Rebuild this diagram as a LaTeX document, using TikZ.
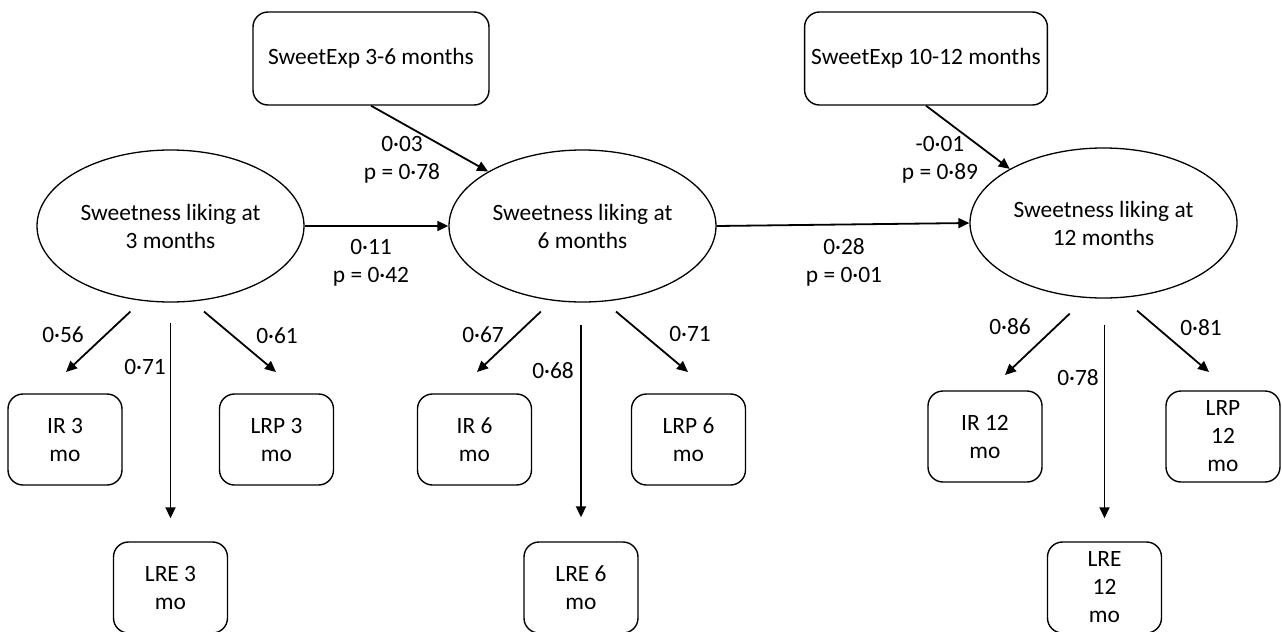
\documentclass[tikz,border=0pt]{standalone}
\usepackage{fontspec}
\setmainfont{Carlito}
\usetikzlibrary{shapes.geometric, arrows.meta}

\begin{document}
\begin{tikzpicture}[x=0.5pt, y=-0.5pt, font=\fontsize{11.7}{14}\selectfont,
    latent/.style={draw, ellipse, line width=0.65pt, minimum width=133.5pt, minimum height=76pt, inner sep=0pt, align=center},
    expBox/.style={draw, rounded corners=7.5pt, line width=0.7pt, minimum width=118pt, minimum height=46.5pt, align=center},
    itemBox/.style={draw, rounded corners=7.5pt, line width=0.7pt, minimum width=57pt, minimum height=45.5pt, inner sep=0pt, align=center},
    arrowLine/.style={-{Triangle[length=5.5pt, width=5pt]}, line width=0.9pt},
    coef/.style={inner sep=0pt, align=center}]
\useasboundingbox (0,0) rectangle (1282,632);

\node[expBox] (sweetExpA) at (371,58.5) {SweetExp 3-6 months};
\node[expBox] (sweetExpB) at (926,58.5) {SweetExp 10-12 months};

\node[latent] (liking3) at (170.5,226) {Sweetness liking at\\3 months};
\node[latent] (liking6) at (582.5,226) {Sweetness liking at\\6 months};
\node[latent, minimum height=75pt] (liking12) at (1103.5,223) {Sweetness liking at\\12 months};

\node[itemBox] (ir3) at (65,439.5) {IR 3\\mo};
\node[itemBox] (lrp3) at (276.5,439.5) {LRP 3\\mo};
\node[itemBox] (lre3) at (170.5,587.5) {LRE 3\\mo};
\node[itemBox] (ir6) at (474.5,439.5) {IR 6\\mo};
\node[itemBox] (lrp6) at (688.5,439.5) {LRP 6\\mo};
\node[itemBox] (lre6) at (581,587.5) {LRE 6\\mo};
\node[itemBox] (ir12) at (985,436.5) {IR 12\\mo};
\node[itemBox] (lrp12) at (1223,436.5) {LRP\\12\\mo};
\node[itemBox] (lre12) at (1104.5,587.5) {LRE\\12\\mo};

\coordinate (ir3Tip) at (66,372);
\coordinate (lrp3Tip) at (276,372);
\coordinate (ir6Tip) at (477,372);
\coordinate (lrp6Tip) at (688,372);
\coordinate (ir12Tip) at (1005,375);
\coordinate (lrp12Tip) at (1209,372);

\draw[arrowLine] (sweetExpA.south) -- (liking6.150);
\draw[arrowLine] (sweetExpB.south) -- (liking12.150);
\draw[arrowLine] (liking3.east) -- (liking6.west);
\draw[arrowLine] (liking6.east) -- (liking12.west);

\draw[arrowLine, shorten <=7.8pt] (liking3.249.3) -- (ir3Tip);
\draw[arrowLine, shorten <=7.7pt] (liking3.286.1) -- (lrp3Tip);
\draw[arrowLine, shorten <=10pt, shorten >=11.5pt] (lre3.north |- liking3.south) -- (lre3.north);
\draw[arrowLine, shorten <=7.9pt] (liking6.248.7) -- (ir6Tip);
\draw[arrowLine, shorten <=7.7pt] (liking6.286.9) -- (lrp6Tip);
\draw[arrowLine, shorten <=11pt, shorten >=12pt] (lre6.north |- liking6.south) -- (lre6.north);
\draw[arrowLine, shorten <=11.3pt] (liking12.257.1) -- (ir12Tip);
\draw[arrowLine, shorten <=9.8pt] (liking12.284.9) -- (lrp12Tip);
\draw[arrowLine, shorten <=13pt, shorten >=11.5pt] (lre12.north |- liking12.south) -- (lre12.north);

\node[coef] (coefExpA) at (402,160) {0·03\\p = 0·78};
\node[coef] (coefExpB) at (940,160) {-0·01\\p = 0·89};
\node[coef] (coefLikA) at (371,263) {0·11\\p = 0·42};
\node[coef] (coefLikB) at (844,262) {0·28\\p = 0·01};

\node[coef] (coefIr3) at (63,335) {0·56};
\node[coef] (coefLre3) at (145,367) {0·71};
\node[coef] (coefLrp3) at (277,336) {0·61};
\node[coef] (coefIr6) at (483,335) {0·67};
\node[coef] (coefLre6) at (553,371) {0·68};
\node[coef] (coefLrp6) at (690,334) {0·71};
\node[coef] (coefIr12) at (1010,327) {0·86};
\node[coef] (coefLre12) at (1078,378) {0·78};
\node[coef] (coefLrp12) at (1201,328) {0·81};

\end{tikzpicture}
\end{document}
